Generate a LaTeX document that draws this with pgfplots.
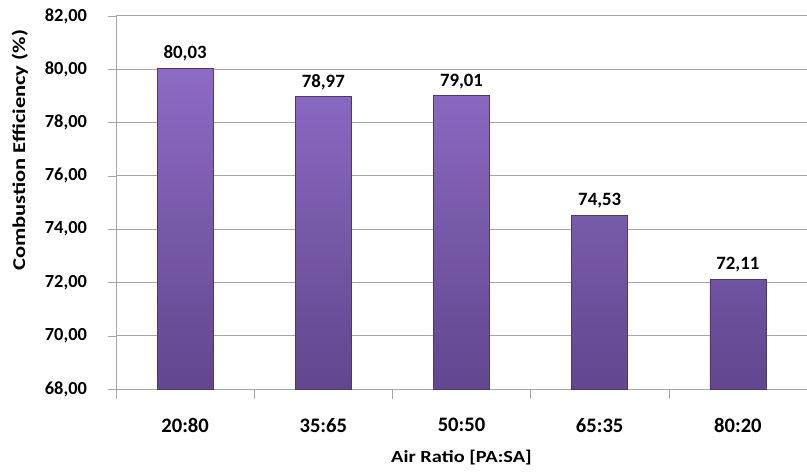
\documentclass[border=0pt]{standalone}
\usepackage{pgfplots}
\pgfplotsset{compat=1.18}
\usepackage{fontspec}
\setmainfont{Carlito}
\newfontfamily\labfont{Carlito}[FakeStretch=1.25]
\newfontfamily\xlabfont{Carlito}[FakeStretch=1.2]
\definecolor{bartop}{HTML}{8C6CC4}
\definecolor{barbot}{HTML}{62468F}
\definecolor{gridc}{HTML}{A6A6A6}
\begin{document}
\begin{tikzpicture}
\begin{axis}[
  name=ax,
  scale only axis,
  width=345.5pt, height=186.5pt,
  xmin=-0.5, xmax=4.5,
  ymin=68, ymax=82,
  ytick={68,70,...,82},
  xtick={0,1,2,3,4},
  xticklabels={20:80,35:65,50:50,65:35,80:20},
  minor xtick={-0.5,0.5,1.5,2.5,3.5,4.5},
  axis x line*=bottom,
  axis y line*=left,
  axis line style={gridc,-},
  major x tick style={draw=none},
  minor x tick style={gridc},
  minor tick length=5pt,
  y tick style={gridc},
  major tick length=4pt,
  tick align=outside,
  ymajorgrids,
  grid style={gridc, line width=0.5pt},
  yticklabel style={font=\bfseries\fontsize{9.2}{10}\selectfont, xshift=-7pt},
  xticklabel style={font=\bfseries\fontsize{10.3}{11}\selectfont, yshift=-7pt},
  /pgf/number format/assume math mode=true,
  /pgf/number format/.cd, use comma, fixed, fixed zerofill, precision=2, 1000 sep={},
  /pgfplots/.cd,
  ylabel={Combustion Efficiency (\%)},
  ylabel style={font=\labfont\bfseries\fontsize{9}{10}\selectfont, at={(rel axis cs:-0.139,0.64)}, anchor=center},
  xlabel={Air Ratio [PA:SA]},
  xlabel style={font=\xlabfont\bfseries\fontsize{8.5}{9}\selectfont, yshift=-2pt},
  clip=false,
  ybar, bar width=28pt,
  nodes near coords,
  nodes near coords style={font=\bfseries\fontsize{9.4}{10}\selectfont, /pgf/number format/.cd, use comma, fixed, fixed zerofill, precision=2, assume math mode=true},
]
\addplot[draw=barbot!80!black, line width=0.3pt, top color=bartop, bottom color=barbot] coordinates {(0,80.03) (1,78.97) (2,79.01) (3,74.53) (4,72.11)};
\end{axis}
\pgfresetboundingbox
\path ([xshift=-58pt,yshift=-41.5pt]ax.south west) rectangle ([yshift=8pt]ax.north east);
\end{tikzpicture}
\end{document}
